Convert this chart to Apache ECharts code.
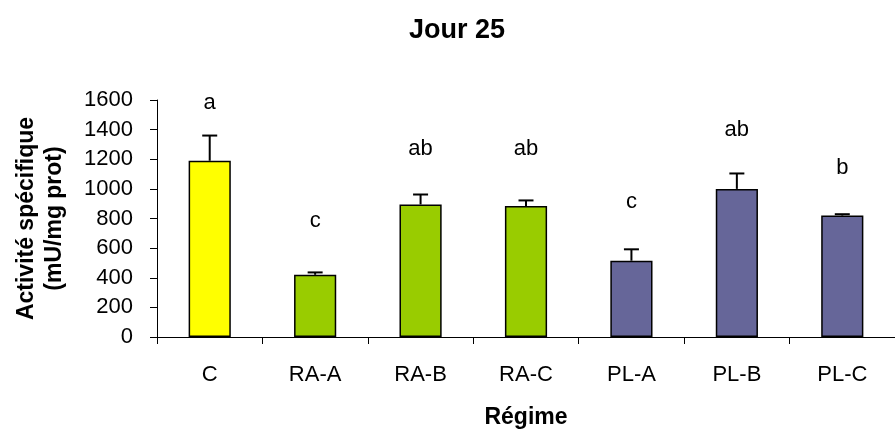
<!DOCTYPE html>
<html>
<head>
<meta charset="utf-8">
<script src="https://cdn.jsdelivr.net/npm/echarts@6/dist/echarts.min.js"></script>
<style>
html,body{margin:0;padding:0;background:#fff;}
#c{width:895px;height:434px;}
</style>
</head>
<body>
<div id="c"></div>
<script>
var categories = ['C', 'RA-A', 'RA-B', 'RA-C', 'PL-A', 'PL-B', 'PL-C'];
var groups = ['C', 'RA', 'RA', 'RA', 'PL', 'PL', 'PL'];
var values = [1190, 420, 895, 885, 515, 1000, 820];
var errors = [170, 16, 67, 37, 77, 104, 9];
var letters = ['a', 'c', 'ab', 'ab', 'c', 'ab', 'b'];
var letterY = [1534, 737, 1220, 1220, 864, 1352, 1091];
var yTicks = [0, 200, 400, 600, 800, 1000, 1200, 1400, 1600];

var groupColors = { C: '#FFFF00', RA: '#99CC00', PL: '#666699' };
var FONT = "'Liberation Sans', Arial, sans-serif";

var chart = echarts.init(document.getElementById('c'), null, { renderer: 'canvas' });

var barData = values.map(function (v, i) {
  return { value: v, itemStyle: { color: groupColors[groups[i]] } };
});
var errData = values.map(function (v, i) { return [i, v, v + errors[i]]; });
var letterData = letters.map(function (t, i) { return [i, letterY[i], t]; });

chart.setOption({
  animation: false,
  backgroundColor: '#fff',
  title: {
    text: 'Jour 25',
    left: 452,
    textAlign: 'center',
    top: 12,
    textStyle: { fontFamily: FONT, fontWeight: 'bold', fontSize: 27, color: '#000' }
  },
  grid: { left: 157, top: 100, width: 750, height: 243 },
  xAxis: {
    type: 'category',
    data: categories,
    name: 'Régime',
    nameLocation: 'middle',
    nameGap: 69,
    nameTextStyle: { fontFamily: FONT, fontWeight: 'bold', fontSize: 23, color: '#000' },
    axisLine: { lineStyle: { color: '#000', width: 1 } },
    axisTick: { show: true, length: 7, alignWithLabel: false, lineStyle: { color: '#000' } },
    axisLabel: { fontFamily: FONT, fontSize: 22, color: '#000', margin: 27 },
    splitLine: { show: false }
  },
  yAxis: {
    type: 'value',
    min: yTicks[0],
    max: yTicks[yTicks.length - 1],
    interval: yTicks[1] - yTicks[0],
    name: 'Activité spécifique\n(mU/mg prot)',
    nameLocation: 'middle',
    nameRotate: 90,
    nameGap: 88,
    nameTextStyle: { fontFamily: FONT, fontWeight: 'bold', fontSize: 23, color: '#000', lineHeight: 28 },
    axisLine: { show: true, lineStyle: { color: '#000', width: 1 } },
    axisTick: { show: true, length: 7, lineStyle: { color: '#000' } },
    axisLabel: {
      fontFamily: FONT, fontSize: 22, color: '#000', margin: 24,
      formatter: function (v) { return String(v); }
    },
    splitLine: { show: false }
  },
  series: [
    {
      type: 'bar',
      data: barData,
      barWidth: '40%',
      itemStyle: { borderColor: '#000', borderWidth: 1.5 },
      z: 2
    },
    {
      type: 'custom',
      data: errData,
      z: 3,
      renderItem: function (params, api) {
        var x = api.value(0);
        var base = api.coord([x, api.value(1)]);
        var top = api.coord([x, api.value(2)]);
        var hw = 7.5;
        var st = { stroke: '#000', lineWidth: 2 };
        return {
          type: 'group',
          children: [
            { type: 'line', shape: { x1: base[0], y1: base[1], x2: top[0], y2: top[1] }, style: st },
            { type: 'line', shape: { x1: top[0] - hw, y1: top[1], x2: top[0] + hw, y2: top[1] }, style: st }
          ]
        };
      }
    },
    {
      type: 'custom',
      data: letterData,
      z: 4,
      renderItem: function (params, api) {
        var p = api.coord([api.value(0), api.value(1)]);
        return {
          type: 'text',
          x: p[0],
          y: p[1] + 4,
          style: {
            text: letterData[params.dataIndex][2],
            fontFamily: FONT,
            fontSize: 22,
            fill: '#000',
            align: 'center',
            verticalAlign: 'bottom'
          }
        };
      }
    }
  ]
});
</script>
</body>
</html>
